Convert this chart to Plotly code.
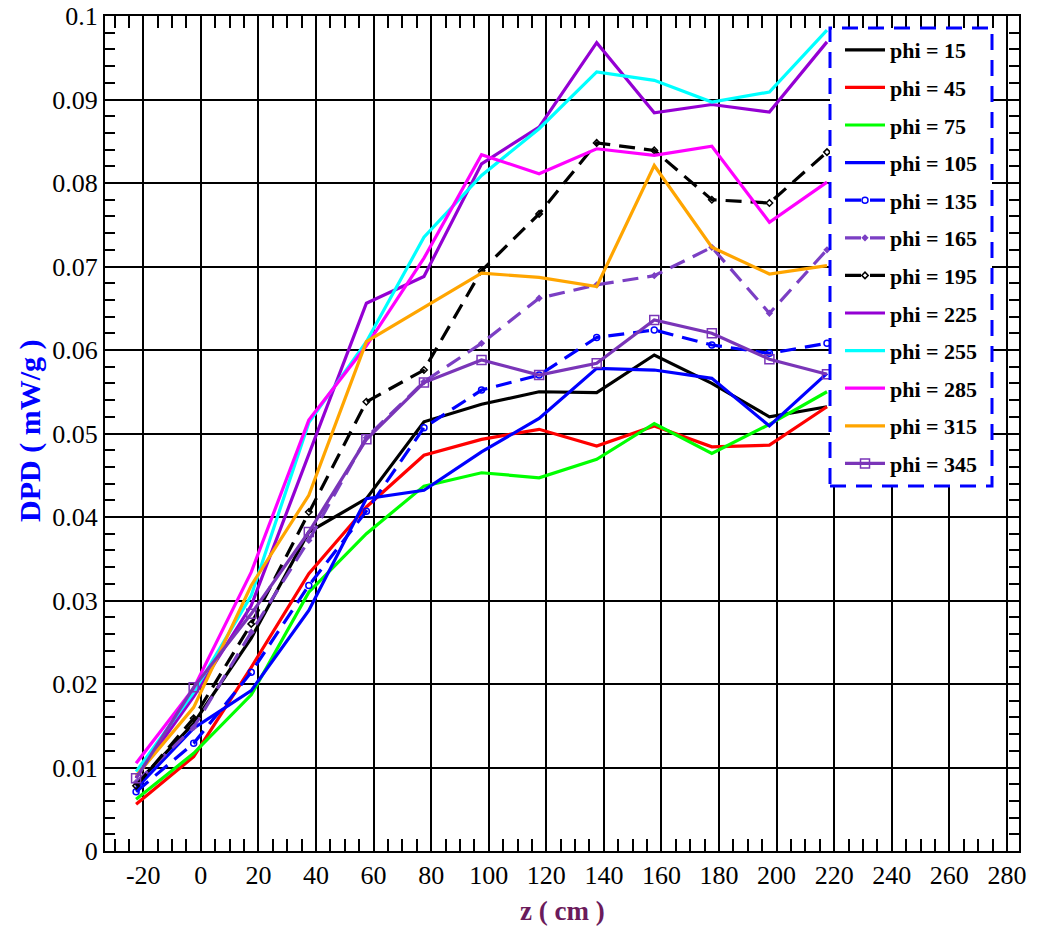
import plotly.graph_objects as go

# Axial positions of the measurement points (cm)
z = [-22.5, -2.5, 17.5, 37.5, 57.5, 77.5, 97.5, 117.5, 137.5, 157.5, 177.5, 197.5, 217.5]

# DPD (mW/g) along z for each azimuthal angle phi (degrees)
phi_15 = [0.0080, 0.0153, 0.0255, 0.0382, 0.0422, 0.0514, 0.0535, 0.0550, 0.0549, 0.0594, 0.0560, 0.0520, 0.0532]
phi_45 = [0.0056, 0.0113, 0.0220, 0.0332, 0.0412, 0.0474, 0.0493, 0.0505, 0.0485, 0.0509, 0.0484, 0.0486, 0.0532]
phi_75 = [0.0062, 0.0117, 0.0187, 0.0310, 0.0380, 0.0437, 0.0453, 0.0447, 0.0469, 0.0512, 0.0476, 0.0511, 0.0550]
phi_105 = [0.0075, 0.0147, 0.0192, 0.0288, 0.0422, 0.0432, 0.0478, 0.0518, 0.0578, 0.0576, 0.0566, 0.0509, 0.0572]
phi_135 = [0.0071, 0.0129, 0.0214, 0.0318, 0.0407, 0.0507, 0.0552, 0.0570, 0.0615, 0.0624, 0.0606, 0.0596, 0.0608]
phi_165 = [0.0082, 0.0148, 0.0262, 0.0372, 0.0495, 0.0562, 0.0608, 0.0662, 0.0678, 0.0689, 0.0723, 0.0644, 0.0720]
phi_195 = [0.0078, 0.0159, 0.0272, 0.0406, 0.0538, 0.0576, 0.0695, 0.0763, 0.0848, 0.0839, 0.0780, 0.0776, 0.0837]
phi_225 = [0.0088, 0.0185, 0.0294, 0.0476, 0.0656, 0.0688, 0.0823, 0.0867, 0.0968, 0.0884, 0.0894, 0.0885, 0.0969]
phi_255 = [0.0095, 0.0190, 0.0306, 0.0513, 0.0610, 0.0735, 0.0809, 0.0865, 0.0933, 0.0923, 0.0897, 0.0909, 0.0983]
phi_285 = [0.0105, 0.0195, 0.0334, 0.0516, 0.0605, 0.0710, 0.0834, 0.0811, 0.0841, 0.0833, 0.0844, 0.0753, 0.0801]
phi_315 = [0.0090, 0.0172, 0.0318, 0.0426, 0.0610, 0.0651, 0.0692, 0.0687, 0.0676, 0.0821, 0.0723, 0.0691, 0.0701]
phi_345 = [0.0087, 0.0196, 0.0284, 0.0382, 0.0493, 0.0561, 0.0588, 0.0570, 0.0584, 0.0636, 0.0620, 0.0589, 0.0571]

x_ticks = list(range(-20, 281, 20))

SERIF = "Liberation Serif, Times New Roman, serif"
DASH = "16px,9px"

series = [
    ("phi = 15", phi_15, "#000000", "solid", None, 0),
    ("phi = 45", phi_45, "#ff0000", "solid", None, 0),
    ("phi = 75", phi_75, "#00ff00", "solid", None, 0),
    ("phi = 105", phi_105, "#0000ff", "solid", None, 0),
    ("phi = 135", phi_135, "#0000ff", DASH, "circle-open", 6),
    ("phi = 165", phi_165, "#7b3fc4", DASH, "diamond", 4),
    ("phi = 195", phi_195, "#000000", DASH, "diamond-open", 5),
    ("phi = 225", phi_225, "#9400d3", "solid", None, 0),
    ("phi = 255", phi_255, "#00ffff", "solid", None, 0),
    ("phi = 285", phi_285, "#ff00ff", "solid", None, 0),
    ("phi = 315", phi_315, "#ffa500", "solid", None, 0),
    ("phi = 345", phi_345, "#7a35b8", "solid", "square-open", 9),
]

fig = go.Figure()
for i, (name, vals, color, dash, symbol, msize) in enumerate(series):
    mode = "lines+markers" if symbol else "lines"
    kw = {}
    if symbol:
        kw["marker"] = dict(symbol=symbol, size=msize, color=color,
                            line=dict(color=color, width=1.5))
    fig.add_trace(go.Scatter(
        x=z, y=vals, mode=mode, name=name, legendgroup=f"g{i}",
        line=dict(color=color, width=3.2, dash=dash), **kw))

x_lo, x_hi = -33.3, 284.2

axis_common = dict(
    showline=True, linecolor="black", linewidth=2, mirror="ticks",
    showgrid=True, gridcolor="black", gridwidth=2,
    ticks="inside", ticklen=10, tickwidth=2, tickcolor="black",
    tickfont=dict(family=SERIF, size=26, color="black"),
    zeroline=False, automargin=False,
)

fig.update_xaxes(
    range=[x_lo, x_hi], tickmode="array", tickvals=x_ticks,
    ticktext=[str(v) for v in x_ticks],
    minor=dict(dtick=5, tick0=0, ticks="inside", ticklen=12, tickwidth=1.5,
               tickcolor="black", showgrid=False),
    **axis_common,
)
fig.update_yaxes(
    range=[0, 0.1], dtick=0.01, tick0=0,
    minor=dict(dtick=0.002, tick0=0, ticks="inside", ticklen=10, tickwidth=1.5,
               tickcolor="black", showgrid=False),
    **axis_common,
)

L, R, T, B = 105, 1019, 16, 851
W, H = R - L, B - T

# Axis titles
fig.add_annotation(text="<b>DPD ( mW/g )</b>", xref="paper", yref="paper",
                   x=(30 - L) / W, y=(B - 431) / H, xanchor="center", yanchor="middle",
                   showarrow=False, textangle=-90,
                   font=dict(family=SERIF, size=30, color="#0000ff"))
fig.add_annotation(text="<b>z ( cm )</b>", xref="paper", yref="paper",
                   x=(562 - L) / W, y=(B - 911) / H, xanchor="center", yanchor="middle",
                   showarrow=False,
                   font=dict(family=SERIF, size=27, color="#6b1b5b"))

# Legend frame: dashed blue rectangle behind the legend entries
box = dict(x0=(830 - L) / W, x1=(992 - L) / W, y0=(B - 486) / H, y1=(B - 28) / H)
fig.add_shape(type="rect", xref="paper", yref="paper", **box,
              line=dict(color="#0000ff", width=3, dash="16px,10px"),
              fillcolor="white", layer="above")

fig.update_layout(
    width=1038, height=927,
    margin=dict(l=L, r=1038 - R, t=T, b=927 - B),
    paper_bgcolor="white", plot_bgcolor="white",
    showlegend=True,
    legend=dict(
        x=box["x0"] + 10 / W, y=box["y1"] - 1 / H, xanchor="left", yanchor="top",
        bgcolor="rgba(0,0,0,0)", borderwidth=0,
        font=dict(family=SERIF, size=22, color="black", weight="bold"),
        traceorder="grouped", tracegroupgap=6, itemwidth=40,
    ),
)

fig.write_html("out.html")
